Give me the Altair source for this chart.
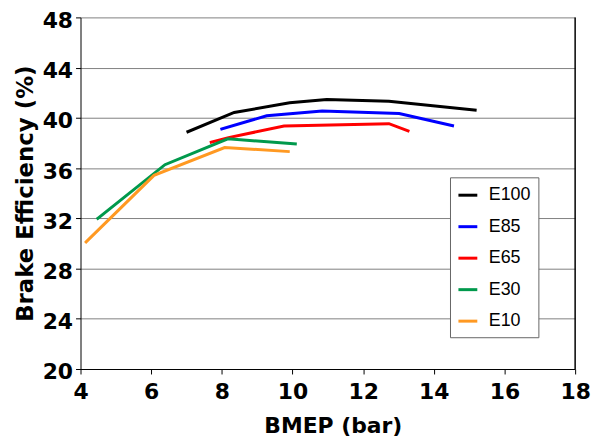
import altair as alt
import pandas as pd

series_names = ["E100", "E85", "E65", "E30", "E10"]
series_colors = ["#000000", "#0000FF", "#FF0000", "#00994C", "#FF9922"]

e100_x = [7.04, 8.35, 9.92, 10.97, 12.73, 15.17]
e100_y = [38.9, 40.43, 41.2, 41.46, 41.33, 40.62]
e85_x = [8.0, 9.27, 10.84, 13.02, 14.53]
e85_y = [39.12, 40.17, 40.54, 40.35, 39.38]
e65_x = [7.70, 8.19, 9.76, 12.73, 13.27]
e65_y = [38.06, 38.43, 39.35, 39.54, 38.96]
e30_x = [4.49, 6.39, 8.17, 10.08]
e30_y = [32.0, 36.27, 38.33, 37.93]
e10_x = [4.16, 6.08, 8.08, 9.88]
e10_y = [30.12, 35.42, 37.64, 37.32]

x_ticks = [4, 6, 8, 10, 12, 14, 16, 18]
y_ticks = [20, 24, 28, 32, 36, 40, 44, 48]

rows = []
for name, xs, ys in [("E100", e100_x, e100_y), ("E85", e85_x, e85_y),
                     ("E65", e65_x, e65_y), ("E30", e30_x, e30_y),
                     ("E10", e10_x, e10_y)]:
    for i, (xv, yv) in enumerate(zip(xs, ys)):
        rows.append({"fuel": name, "bmep": xv, "eff": yv, "order": i})
df = pd.DataFrame(rows)

BOLD = "DejaVu Sans"

x_enc = alt.X("bmep:Q", scale=alt.Scale(domain=[4, 18], nice=False),
              axis=alt.Axis(values=x_ticks, title="BMEP (bar)", grid=False,
                            labelFont=BOLD, labelFontSize=22, labelFontWeight="bold",
                            labelColor="black", labelPadding=8, tickSize=5,
                            tickColor="black", domainColor="black", labelFlush=False,
                            titleFont=BOLD, titleFontSize=22, titleFontWeight="bold",
                            titleColor="black", titleBaseline="alphabetic",
                            titleY=64, titleX=254, titleAnchor="middle"))
y_enc = alt.Y("eff:Q", scale=alt.Scale(domain=[20, 48], nice=False),
              axis=alt.Axis(values=y_ticks, title="Brake Efficiency (%)", grid=True,
                            gridColor="#808080", gridWidth=1, gridOpacity=1,
                            labelFont=BOLD, labelFontSize=22, labelFontWeight="bold",
                            labelColor="black", labelPadding=3, tickSize=5,
                            labelOffset=3,
                            tickColor="black", domainColor="black", labelFlush=False,
                            titleFont=BOLD, titleFontSize=23, titleFontWeight="bold",
                            titleColor="black", titleAngle=270,
                            titleBaseline="alphabetic", titleX=-48, titleY=177,
                            titleAnchor="middle"))

lines = alt.Chart(df).mark_line(strokeWidth=3, strokeCap="square", strokeJoin="miter").encode(
    x=x_enc,
    y=y_enc,
    order="order:Q",
    color=alt.Color("fuel:N",
                    scale=alt.Scale(domain=series_names, range=series_colors),
                    sort=series_names,
                    legend=alt.Legend(title=None, orient="none", legendX=372, legendY=161,
                                      symbolType="stroke", symbolSize=361,
                                      symbolStrokeWidth=3, labelFont="Liberation Sans",
                                      labelFontSize=18, labelColor="black",
                                      labelOffset=10, rowPadding=11.7, padding=7,
                                      strokeColor="#666666", fillColor="white")),
)

border = alt.Chart(pd.DataFrame({"bx": [18]})).mark_rule(color="black", strokeWidth=1.5).encode(
    x=alt.X("bx:Q", scale=alt.Scale(domain=[4, 18], nice=False)),
)

chart = alt.layer(lines, border).properties(
    width=498, height=354,
    autosize=alt.AutoSizeParams(type="none"),
    padding={"left": 73, "top": 8, "right": 20, "bottom": 70},
).configure_view(stroke=None)

chart.save("out.html", embed_options={"renderer": "svg", "actions": False})
